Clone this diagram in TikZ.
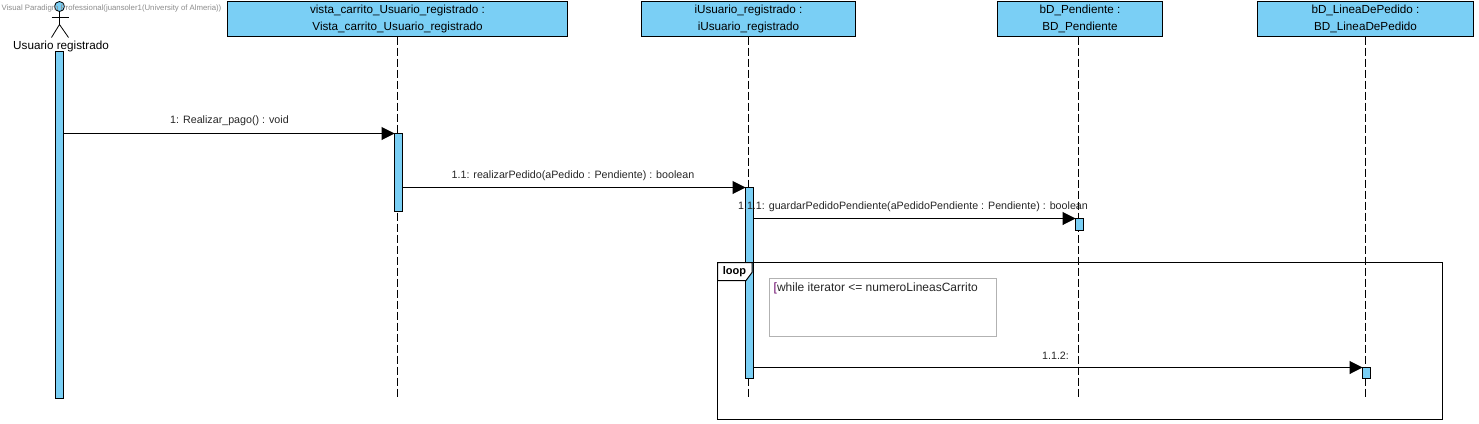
\documentclass[tikz,border=0pt]{standalone}
\usepackage{fontspec}
\setmainfont{Liberation Sans}
\usetikzlibrary{arrows.meta,positioning}
\definecolor{vpblue}{HTML}{7ACFF5}

\begin{document}
\begin{tikzpicture}[x=1pt,y=-1pt,
	head/.style={rectangle, draw=black, fill=vpblue, line width=1pt, anchor=north west, inner sep=0pt, outer sep=0pt, align=center, font=\fontsize{11.7}{16.5}\selectfont},
	bar/.style={rectangle, draw=black, fill=vpblue, line width=1pt, anchor=north, inner sep=0pt, outer sep=0pt, minimum width=8pt},
	lifeline/.style={line width=1pt, dash pattern=on 8pt off 3pt},
	msg/.style={line width=1pt, -{Triangle[length=13pt,width=13pt]}},
	msglabel/.style={font=\fontsize{10.7}{12}\selectfont, text=black!85, inner sep=0pt}]
		\useasboundingbox (-0.5,-0.5) rectangle (1478.5,422.5);

		\node[head, minimum width=340pt, minimum height=35pt] (vista) at (227,1) {vista\_carrito\_Usuario\_registrado :\\Vista\_carrito\_Usuario\_registrado};
		\node[head, minimum width=214pt, minimum height=35pt] (iusuario) at (641,1) {iUsuario\_registrado :\\iUsuario\_registrado};
		\node[head, minimum width=165pt, minimum height=35pt] (pendiente) at (997,1) {bD\_Pendiente :\\BD\_Pendiente};
		\node[head, minimum width=216pt, minimum height=35pt] (linea) at (1257,1) {bD\_LineaDePedido :\\BD\_LineaDePedido};

		\coordinate (vistaend) at (397,398);
		\coordinate (iusuarioend) at (748,398);
		\coordinate (pendienteend) at (1078,398);
		\coordinate (lineaend) at (1365,398);
		\draw[lifeline] (vista.south) -- (vistaend);
		\draw[lifeline] (iusuario.south) -- (iusuarioend);
		\draw[lifeline] (pendiente.south -| pendienteend) -- (pendienteend);
		\draw[lifeline] (linea.south) -- (lineaend);

		% actor
		\node[circle, draw=black, fill=vpblue, line width=0.8pt, inner sep=0pt, minimum size=10pt] (actorhead) at (59,6) {};
		\coordinate (actorhip) at (59,24);
		\coordinate (actorlarm) at (51,17);
		\coordinate (actorrarm) at (68,17);
		\coordinate (actorlleg) at (51,37);
		\coordinate (actorrleg) at (68,37);
		\draw[line width=0.8pt] (actorhead) -- (actorhip);
		\draw[line width=0.8pt] (actorlarm) -- (actorrarm);
		\draw[line width=0.8pt] (actorlleg) -- (actorhip) -- (actorrleg);
		\node[font=\fontsize{11.7}{13}\selectfont, inner sep=0pt] (actorlabel) at (60.5,45.5) {Usuario registrado};
		\node[font=\fontsize{7.8}{9}\selectfont, text=black!45, inner sep=0pt, anchor=west] (watermark) at (1,8) {Visual Paradigm Professional(juansoler1(University of Almeria))};

		% activations
		\node[bar, minimum height=347pt] (baractor) at (59,51) {};
		\node[bar, minimum height=78pt] (barvista) at (398,133) {};
		\node[bar, minimum height=191pt] (bariusuario) at (749,187) {};
		\node[bar, minimum height=12pt] (barpendiente) at (1079,218) {};
		\node[bar, minimum height=11pt] (barlinea) at (1366,367) {};

		\draw[msg] (baractor.east |- barvista.north) -- (barvista.north west);
		\draw[msg] (barvista.east |- bariusuario.north) -- (bariusuario.north west);
		\draw[msg] (bariusuario.east |- barpendiente.north) -- (barpendiente.north west);
		\draw[msg] (bariusuario.east |- barlinea.north) -- (barlinea.north west);

		\node[msglabel] (msgone) at (229,120.5) {1: Realizar\_pago() : void};
		\node[msglabel] (msgtwo) at (572.5,175.5) {1.1: realizarPedido(aPedido : Pendiente) : boolean};
		\node[msglabel] (msgthree) at (912.5,206.5) {1.1.1: guardarPedidoPendiente(aPedidoPendiente : Pendiente) : boolean};
		\node[msglabel] (msgfour) at (1055,355.5) {1.1.2:};

		% loop frame
		\node[rectangle, draw=black, line width=1pt, anchor=north west, inner sep=0pt, outer sep=0pt, minimum width=725pt, minimum height=157pt] (frame) at (717,262) {};
		\coordinate (tabtr) at (751.5,262);
		\coordinate (tabcut) at (751.5,272);
		\coordinate (tabin) at (745.5,280);
		\coordinate (tabbl) at (717,280);
		\draw[line width=1pt, fill=white] (frame.north west) -- (tabtr) -- (tabcut) -- (tabin) -- (tabbl) -- cycle;
		\node[font=\bfseries\fontsize{11}{12}\selectfont, inner sep=0pt] (looplabel) at (734,271) {loop};
		\node[rectangle, draw=black!30, line width=1pt, anchor=north west, inner sep=0pt, outer sep=0pt, minimum width=227pt, minimum height=58pt] (guard) at (769,278) {};
		\node[font=\fontsize{12}{14}\selectfont, text=black!85, inner sep=0pt, anchor=west] (guardtext) at (773,287.5) {{\color{violet!80!black}[}while iterator <= numeroLineasCarrito};
	\end{tikzpicture}
\end{document}
